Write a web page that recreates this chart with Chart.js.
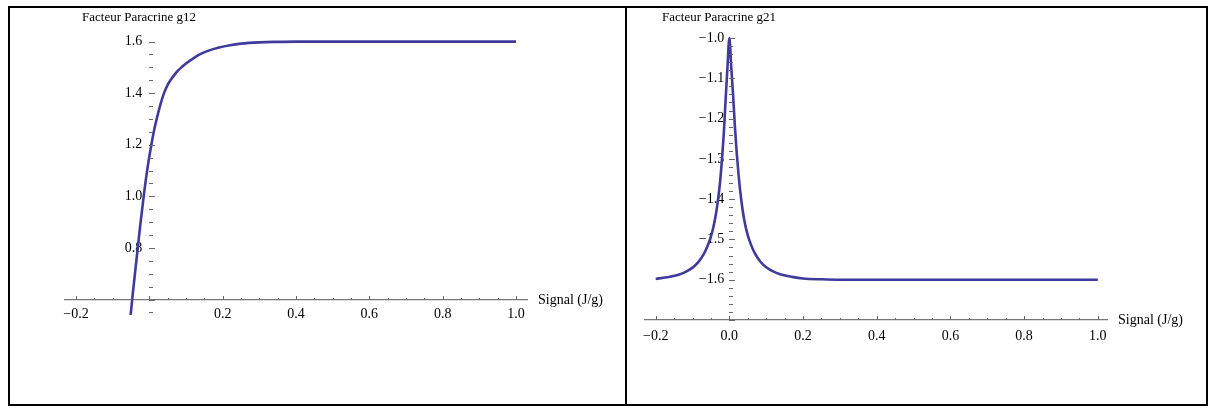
<!DOCTYPE html>
<html>
<head>
<meta charset="utf-8">
<script src="https://cdn.jsdelivr.net/npm/chart.js@4.4.1/dist/chart.umd.min.js"></script>
<style>
  html, body { margin: 0; padding: 0; background: #fff; }
  #page { position: relative; width: 1210px; height: 408px; overflow: hidden; }
  .frame { position: absolute; left: 8px; top: 6px; width: 1200px; height: 400px; border: 2px solid #000; box-sizing: border-box; }
  .divider { position: absolute; left: 625px; top: 6px; width: 2px; height: 400px; background: #000; }
  canvas { position: absolute; top: 0; }
  #g12 { left: 0; }
  #g21 { left: 626px; }
</style>
</head>
<body>
<div id="page">
  <canvas id="g12" width="626" height="408"></canvas>
  <canvas id="g21" width="584" height="408"></canvas>
  <div class="frame"></div>
  <div class="divider"></div>
</div>
<script>
// Facteur Paracrine g12
const g12Signal = [-0.051, -0.045, -0.04, -0.035, -0.03, -0.025, -0.02, -0.015, -0.01, -0.005,
    0, 0.005, 0.01, 0.015, 0.02, 0.03, 0.04, 0.05, 0.06, 0.07, 0.08, 0.09, 0.10, 0.12, 0.14,
    0.16, 0.19, 0.22, 0.25, 0.3, 0.35, 0.4, 0.5, 0.6, 0.7, 0.8, 0.9, 1.0];
const g12Values = [0.54, 0.625, 0.69, 0.755, 0.82, 0.885, 0.945, 1.005, 1.06, 1.11,
    1.155, 1.195, 1.235, 1.27, 1.30, 1.355, 1.40, 1.432, 1.455, 1.474, 1.49, 1.503, 1.515, 1.535, 1.552,
    1.564, 1.577, 1.586, 1.592, 1.597, 1.599, 1.6, 1.6, 1.6, 1.6, 1.6, 1.6, 1.6];

// Facteur Paracrine g21
const g21Signal = [-0.2, -0.17, -0.14, -0.12, -0.10, -0.085, -0.07, -0.06, -0.05, -0.04, -0.032,
    -0.025, -0.02, -0.015, -0.01, -0.005, 0, 0.005, 0.01, 0.015, 0.02, 0.025, 0.032, 0.04, 0.05,
    0.06, 0.07, 0.085, 0.10, 0.12, 0.14, 0.17, 0.2, 0.25, 0.3, 0.4, 0.5, 0.6, 0.7, 0.8, 0.9, 1.0];
const g21Values = [-1.598, -1.594, -1.588, -1.581, -1.57, -1.557, -1.537, -1.518, -1.493, -1.455, -1.41,
    -1.355, -1.30, -1.235, -1.15, -1.07, -1.0, -1.07, -1.14, -1.22, -1.285, -1.34, -1.40, -1.45, -1.49,
    -1.516, -1.536, -1.556, -1.569, -1.58, -1.587, -1.593, -1.597, -1.599, -1.6, -1.6, -1.6, -1.6, -1.6, -1.6, -1.6, -1.6];

// Graduations
const g12XTicks = [-0.2, 0.2, 0.4, 0.6, 0.8, 1.0];
const g12YTicks = [0.8, 1.0, 1.2, 1.4, 1.6];
const g21XTicks = [-0.2, 0.0, 0.2, 0.4, 0.6, 0.8, 1.0];
const g21YTicks = [-1.6, -1.5, -1.4, -1.3, -1.2, -1.1, -1.0];

const LINE_COLOR = '#3f3a9c';
const FONT = '"Liberation Serif", "Times New Roman", serif';

function fmt(v) {
    const s = Math.abs(v).toFixed(1);
    return v < 0 ? '\u2212' + s : s;
}

// Petites graduations + libelles des axes (style Mathematica)
const axisDecor = {
    id: 'axisDecor',
    afterDraw(chart, args, opts) {
        const ctx = chart.ctx;
        const xs = chart.scales.x;
        const ys = chart.scales.y;
        const ax = Math.round(xs.getPixelForValue(opts.originX));
        const ay = Math.round(ys.getPixelForValue(opts.originY));
        ctx.save();
        ctx.strokeStyle = '#666';
        ctx.lineWidth = 1;
        ctx.beginPath();
        // graduations verticales (axe y)
        for (let i = Math.ceil(ys.min / opts.yMinor - 1e-6); i * opts.yMinor <= ys.max + 1e-9; i++) {
            const v = i * opts.yMinor;
            const major = Math.abs(v / opts.yMajor - Math.round(v / opts.yMajor)) < 1e-6;
            const py = Math.round(ys.getPixelForValue(v)) + 0.5;
            ctx.moveTo(ax, py);
            ctx.lineTo(ax + (major ? 6 : 4), py);
        }
        // graduations horizontales (axe x)
        for (let i = Math.ceil(xs.min / opts.xMinor - 1e-6); i * opts.xMinor <= xs.max + 1e-9; i++) {
            const v = i * opts.xMinor;
            const major = Math.abs(v / opts.xMajor - Math.round(v / opts.xMajor)) < 1e-6;
            const px = Math.round(xs.getPixelForValue(v)) + 0.5;
            ctx.moveTo(px, ay);
            ctx.lineTo(px, ay - (major ? 4 : 2));
        }
        ctx.stroke();

        ctx.fillStyle = '#000';
        ctx.textBaseline = 'middle';
        ctx.textAlign = 'left';
        ctx.font = '13px ' + FONT;
        ctx.fillText(opts.title, ax - 67, 18);
        ctx.font = '14px ' + FONT;
        ctx.fillText('Signal (J/g)', xs.right + 11, ay);
        ctx.restore();
    }
};

function makeChart(id, xVals, yVals, cfg) {
    const points = xVals.map((x, i) => ({ x: x, y: yVals[i] }));
    return new Chart(document.getElementById(id), {
        type: 'line',
        data: {
            datasets: [{
                data: points,
                borderColor: LINE_COLOR,
                borderWidth: 2.6,
                pointRadius: 0,
                cubicInterpolationMode: 'monotone',
                fill: false
            }]
        },
        options: {
            responsive: false,
            animation: false,
            devicePixelRatio: 1,
            layout: { padding: cfg.padding },
            plugins: {
                legend: { display: false },
                tooltip: { enabled: false },
                axisDecor: cfg.decor
            },
            scales: {
                x: {
                    type: 'linear',
                    min: cfg.xMin,
                    max: cfg.xMax,
                    position: { y: cfg.decor.originY },
                    afterBuildTicks: scale => { scale.ticks = cfg.xTicks.map(v => ({ value: v })); },
                    grid: { display: false, drawTicks: false },
                    border: { display: true, color: '#777', width: 1.2 },
                    ticks: {
                        autoSkip: false,
                        maxRotation: 0,
                        padding: cfg.xPad,
                        color: '#000',
                        font: { family: FONT, size: 14 },
                        callback: v => fmt(v)
                    }
                },
                y: {
                    type: 'linear',
                    min: cfg.yMin,
                    max: cfg.yMax,
                    // labels decales un peu a gauche de l'axe (axe y sans trait)
                    position: { x: cfg.yLabelAt },
                    afterBuildTicks: scale => { scale.ticks = cfg.yTicks.map(v => ({ value: v })); },
                    grid: { display: false, drawTicks: false },
                    border: { display: false },
                    ticks: {
                        autoSkip: false,
                        color: '#000',
                        font: { family: FONT, size: 14 },
                        callback: v => fmt(v)
                    }
                }
            }
        },
        plugins: [axisDecor]
    });
}

makeChart('g12', g12Signal, g12Values, {
    padding: { left: 65, right: 99, top: 39, bottom: 93 },
    xMin: -0.23, xMax: 1.03, yMin: 0.54, yMax: 1.61, xPad: 6, yLabelAt: -0.019,
    xTicks: g12XTicks, yTicks: g12YTicks,
    decor: { title: 'Facteur Paracrine g12', originX: 0, originY: 0.6, xMinor: 0.05, xMajor: 0.2, yMinor: 0.05, yMajor: 0.2 }
});

makeChart('g21', g21Signal, g21Values, {
    padding: { left: 19, right: 103, top: 34, bottom: 88 },
    xMin: -0.229, xMax: 1.025, yMin: -1.7, yMax: -0.99, xPad: 8, yLabelAt: -0.014,
    xTicks: g21XTicks, yTicks: g21YTicks,
    decor: { title: 'Facteur Paracrine g21', originX: 0, originY: -1.7, xMinor: 0.05, xMajor: 0.2, yMinor: 0.02, yMajor: 0.1 }
});
</script>
</body>
</html>
